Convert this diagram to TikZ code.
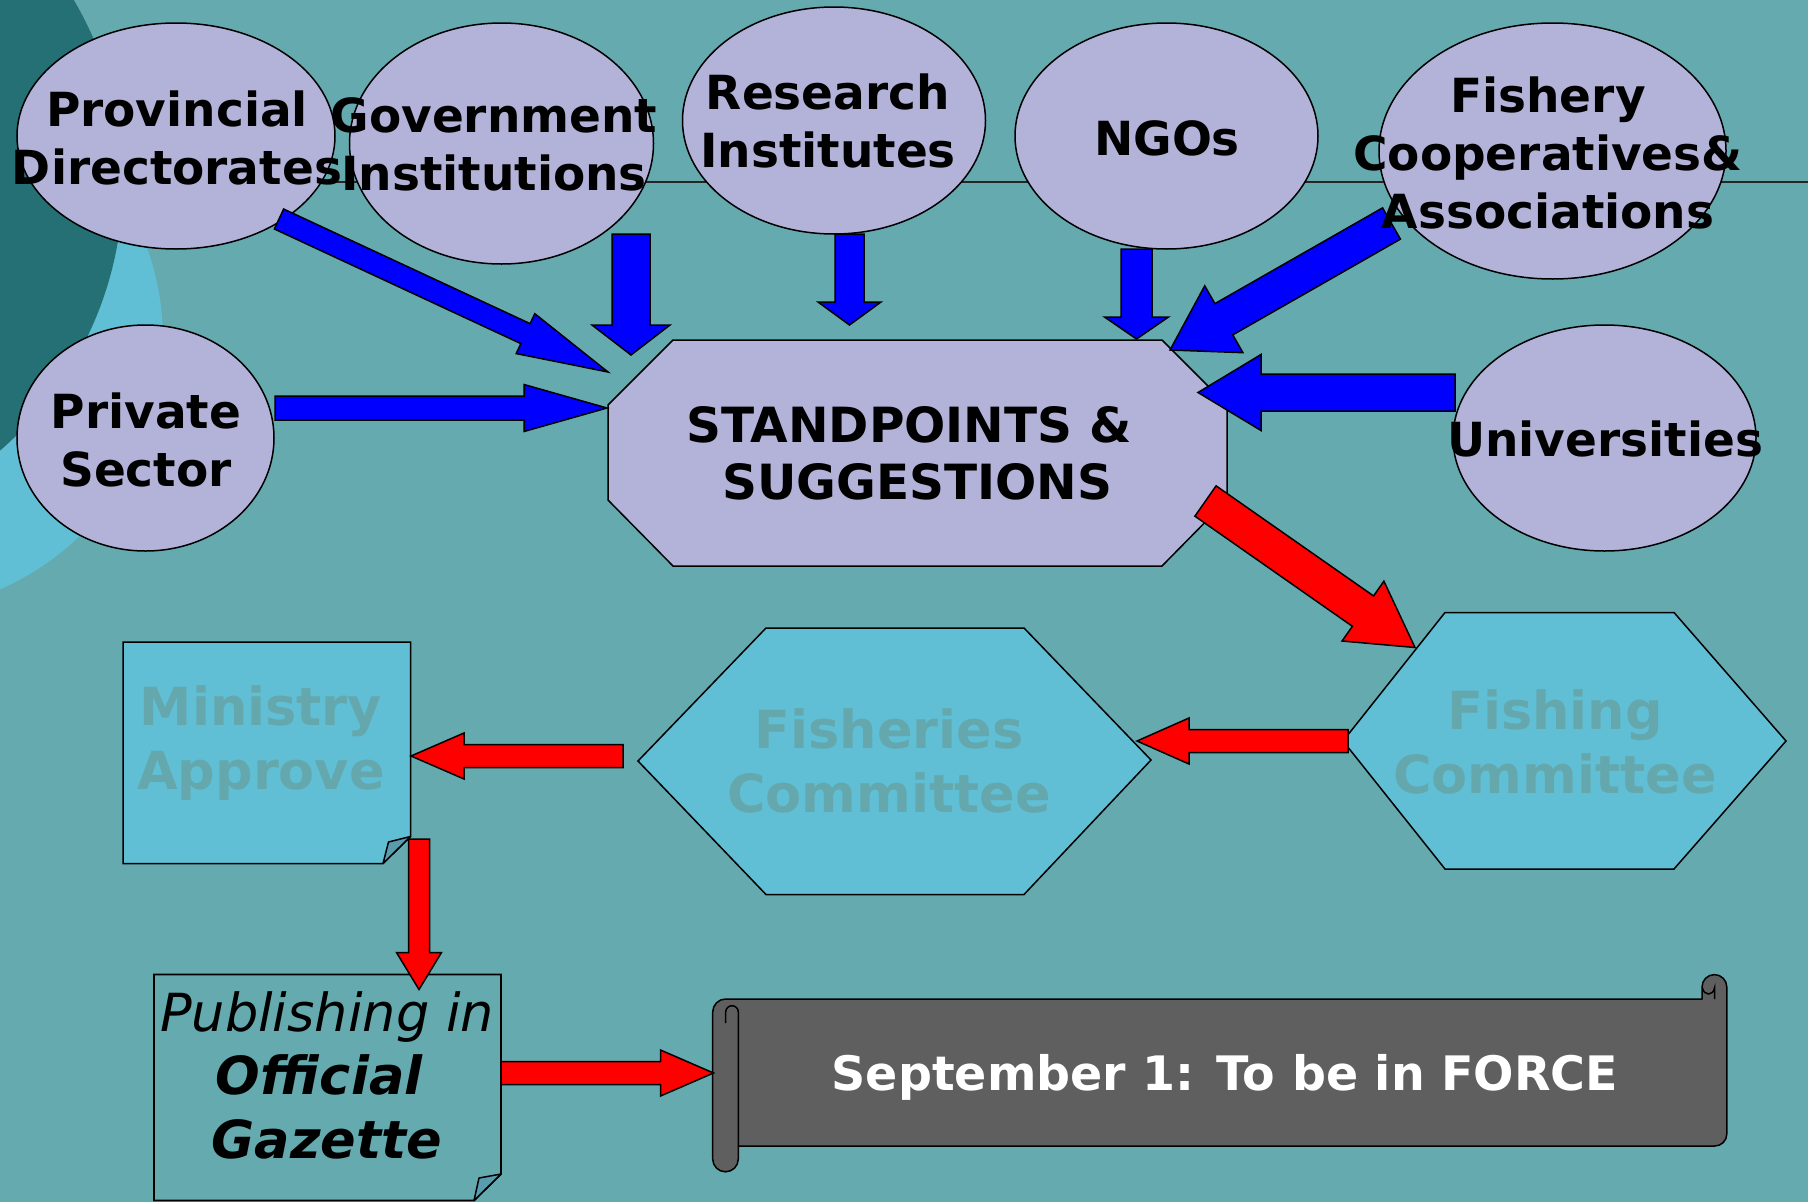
\documentclass[tikz,border=0pt]{standalone}
\usepackage{fontspec}
\setmainfont{DejaVu Sans}
\usetikzlibrary{calc,shapes.geometric}
\definecolor{bg}{RGB}{101,170,175}
\definecolor{darkteal}{RGB}{36,112,116}
\definecolor{lightcyan}{RGB}{96,191,213}
\definecolor{lav}{RGB}{179,178,216}
\definecolor{hexcyan}{RGB}{96,191,213}
\definecolor{tealtext}{RGB}{100,168,173}
\definecolor{foldc}{RGB}{88,156,174}
\definecolor{scrollgray}{RGB}{95,95,95}
\definecolor{arrblue}{RGB}{0,0,255}
\definecolor{arrred}{RGB}{255,0,0}
\newcommand{\blockarrow}[6]{%
  \coordinate (bah) at ($(#2)!#5!(#1)$);
  \draw[#6] ($(#1)!#3!90:(#2)$) -- ($(bah)!#3!-90:(#1)$) -- ($(bah)!#4!-90:(#1)$) -- (#2)
    -- ($(bah)!#4!90:(#1)$) -- ($(bah)!#3!90:(#1)$) -- ($(#1)!#3!-90:(#2)$) -- cycle;
}
\tikzset{
  srcell/.style={ellipse, draw=black, line width=1.5pt, fill=lav, inner sep=0pt},
  srctxt/.style={font=\bfseries\fontsize{47}{58}\selectfont, align=center, text=black, inner sep=0pt},
  stdtxt/.style={font=\bfseries\fontsize{48.5}{57}\selectfont, align=center, text=black, inner sep=0pt},
  commtxt/.style={font=\bfseries\fontsize{52.5}{64.5}\selectfont, align=center, text=tealtext, inner sep=0pt},
  pubtxt/.style={font=\fontsize{52.5}{63.5}\selectfont, align=center, text=black, inner sep=0pt},
  scrolltxt/.style={font=\bfseries\fontsize{47.5}{57}\selectfont, text=white, inner sep=0pt},
  outl/.style={draw=black, line width=1.5pt},
  bluearrow/.style={draw=black, line width=1.5pt, fill=arrblue},
  redarrow/.style={draw=black, line width=1.5pt, fill=arrred},
}
\begin{document}
\begin{tikzpicture}[x=1pt,y=1pt]
\useasboundingbox (0,0) rectangle (1808,-1202);
\fill[bg] (0,0) rectangle (1808,-1202);
\begin{scope}
  \clip (0,0) rectangle (1808,-1202);
  \fill[lightcyan] (-109,-340) circle (272);
  \fill[darkteal] (-234,-181) circle (357);
\end{scope}
\draw[line width=2pt, black!85] (310,-181.5) -- (1808,-181.5);

% source ellipses
\node[srcell, minimum width=318pt, minimum height=226pt] (prov) at (176,-136) {};
\node[srcell, minimum width=304pt, minimum height=241pt] (gov) at (501.5,-143.5) {};
\node[srcell, minimum width=303pt, minimum height=227pt] (res) at (834,-120.5) {};
\node[srcell, minimum width=303pt, minimum height=226pt] (ngo) at (1166.5,-136) {};
\node[srcell, minimum width=347pt, minimum height=256pt] (coop) at (1552.5,-151) {};
\node[srcell, minimum width=303pt, minimum height=226pt] (univ) at (1604.5,-438) {};
\node[srcell, minimum width=257pt, minimum height=226pt] (priv) at (145.5,-438) {};

% central octagon
\draw[outl, fill=lav] (673,-340) -- (1162,-340) -- (1227,-405) -- (1227,-500) -- (1162,-566)
  -- (673,-566) -- (608,-500) -- (608,-405) -- cycle;
\coordinate (std) at (917.5,-453);

% committees
\draw[outl, fill=hexcyan] (1343,-741) -- (1445,-612.5) -- (1674,-612.5) -- (1786,-741)
  -- (1674,-869) -- (1445,-869) -- cycle;
\draw[outl, fill=hexcyan] (638,-761) -- (766,-628) -- (1024,-628) -- (1151,-760)
  -- (1024,-894.5) -- (766,-894.5) -- cycle;

% ministry box
\draw[outl, fill=hexcyan] (123,-642) -- (410.5,-642) -- (410.5,-836.5) -- (383,-863.5) -- (123,-863.5) -- cycle;
\draw[outl, fill=foldc, line join=round] (383,-863.5) -- (388.5,-842) -- (410.5,-836.5) -- cycle;

% publishing box
\draw[outl, line width=1.8pt] (154,-974.5) -- (501,-974.5) -- (501,-1174) -- (474,-1200.5) -- (154,-1200.5) -- cycle;
\draw[outl, fill=foldc, line join=round] (474,-1200.5) -- (479,-1178) -- (501,-1174) -- cycle;

% scroll
\draw[outl, fill=scrollgray, line join=round] (712.7,-1012) arc (180:90:13) -- (1702,-999) -- (1702,-987)
  arc (180:0:12.4) -- (1726.8,-1134) arc (0:-90:12) -- (738.3,-1146) -- (738.3,-1159)
  arc (0:-180:12.8) -- cycle;
\draw[outl] (725.7,-1023) -- (725.7,-1012) arc (180:0:6.3) -- (738.3,-1146);
\draw[outl] (1702.5,-988) .. controls (1704,-996) and (1713,-996) .. (1714.5,-988) -- (1714.5,-999);

% arrow end points
\coordinate (a1s) at (279,-219);     \coordinate (a1e) at (608,-372);
\coordinate (a2s) at (631,-234);     \coordinate (a2e) at (631,-355);
\coordinate (a3s) at (849.5,-234);   \coordinate (a3e) at (849.5,-325);
\coordinate (a4s) at (1136.5,-249);  \coordinate (a4e) at (1136.5,-339);
\coordinate (a5s) at (1391.5,-223.5);\coordinate (a5e) at (1170,-350);
\coordinate (a6s) at (1455,-392.5);  \coordinate (a6e) at (1198,-392.5);
\coordinate (a7s) at (275,-408);     \coordinate (a7e) at (607,-408);
\coordinate (a8s) at (1205.5,-501);  \coordinate (a8e) at (1415,-647.5);
\coordinate (a9s) at (1348,-741);    \coordinate (a9e) at (1137,-741);
\coordinate (a10s) at (623,-756);    \coordinate (a10e) at (411,-756);
\coordinate (a11s) at (419,-839);    \coordinate (a11e) at (419,-989.5);
\coordinate (a12s) at (501,-1073);   \coordinate (a12e) at (713.5,-1073);

\blockarrow{a1s}{a1e}{11pt}{22pt}{91pt}{bluearrow}
\blockarrow{a2s}{a2e}{19pt}{39pt}{30pt}{bluearrow}
\blockarrow{a3s}{a3e}{14.5pt}{31.5pt}{23pt}{bluearrow}
\blockarrow{a4s}{a4e}{15.5pt}{32pt}{22pt}{bluearrow}
\blockarrow{a5s}{a5e}{18pt}{38.5pt}{62pt}{bluearrow}
\blockarrow{a6s}{a6e}{18.5pt}{38pt}{63pt}{bluearrow}
\blockarrow{a7s}{a7e}{12pt}{23.5pt}{83pt}{bluearrow}
\blockarrow{a8s}{a8e}{18.5pt}{36.5pt}{63.5pt}{redarrow}
\blockarrow{a9s}{a9e}{11.5pt}{23pt}{52pt}{redarrow}
\blockarrow{a10s}{a10e}{11.5pt}{23pt}{53pt}{redarrow}
\blockarrow{a11s}{a11e}{10.5pt}{22.5pt}{37pt}{redarrow}
\blockarrow{a12s}{a12e}{11.5pt}{23pt}{53pt}{redarrow}

% texts
\node[srctxt] (prov-t) at (177,-138) {Provincial\\Directorates};
\node[srctxt] (gov-t) at (494,-144) {Government\\Institutions};
\node[srctxt] (res-t) at (828,-121) {Research\\Institutes};
\node[srctxt] (ngo-t) at (1167,-138) {NGOs};
\node[srctxt] (coop-t) at (1548,-153) {Fishery\\Cooperatives\&\\Associations};
\node[srctxt] (univ-t) at (1605,-439) {Universities};
\node[srctxt] (priv-t) at (146,-440) {Private\\Sector};
\node[stdtxt] (std-t) at (std) {STANDPOINTS \&\rule{17pt}{0pt}\\SUGGESTIONS};
\node[commtxt] (fishing-t) at (1555,-742) {Fishing\\Committee};
\node[commtxt] (fisheries-t) at (889,-761) {Fisheries\\Committee};
\node[commtxt] (ministry-t) at (261,-743) {Ministry\\Approve};
\node[pubtxt] (pub-t) at (327,-1075) {\itshape Publishing in\\\bfseries\itshape Official\rule{16pt}{0pt}\\\bfseries\itshape Gazette};
\node[scrolltxt] (scroll-t) at (1225,-1077) {September 1: To be in FORCE};
\end{tikzpicture}
\end{document}
